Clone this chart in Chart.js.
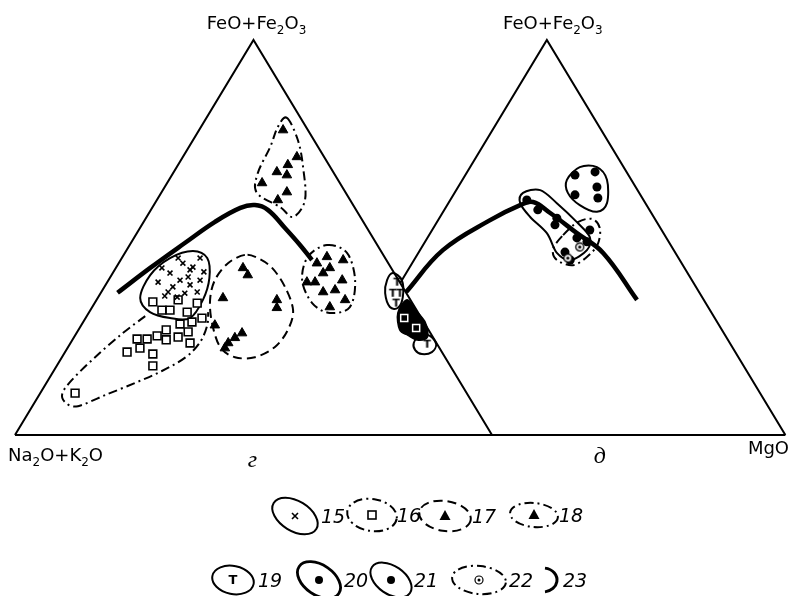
<!DOCTYPE html>
<html>
<head>
<meta charset="utf-8">
<script src="https://cdn.jsdelivr.net/npm/chart.js@4/dist/chart.umd.min.js"></script>
<style>
html, body { margin: 0; background: #fff; }
</style>
</head>
<body>
<canvas id="c" width="790" height="596"></canvas>
<script>
// two AFM diagrams: "г" (left) and "д" (right)
// every point is [FeO+Fe2O3, MgO] in %, Na2O+K2O is the rest

// trend lines
const trendG = [[36, 3.5], [42.3, 7.2], [48.6, 11.3], [53.9, 14.9], [57.5, 18.5], [58.2, 21.2], [57, 24.5], [52.4, 30.4], [48.1, 35.7], [44.3, 40.1]];
const trendD = [[36.2, 2.4], [46.8, 4.8], [54.4, 10.9], [58.2, 15.3], [59, 17.6], [56.2, 22.6], [51.1, 30.75], [46.1, 38.75], [34.2, 51.8]];

// samples, diagram г
const crosses15 = [[44.8, 16.4], [41.8, 15.8], [41, 12], [39.2, 15], [38.7, 10.65], [37.5, 14.35], [38, 17.7], [39.2, 19.2], [35.9, 17.65], [36.2, 20.1], [36.2, 14], [34.9, 16.55], [43.5, 13.45], [42.5, 16.05],
  [42.3, 9.65], [44.8, 11.8], [41.3, 18.95], [35.2, 13.8], [40, 16.3]];
const squares16 = [[33.7, 12.05], [31.6, 15], [31.6, 16.7], [34.2, 17.1], [31.1, 20.55], [33.4, 21.5], [29.6, 24.4], [28.6, 22.8], [28.1, 20.55], [26.1, 23.25], [23.3, 25.05], [24.8, 21.8], [24.1, 19.65], [25.1, 17.25], [24.3, 15.55], [24.3, 13.45], [21, 13], [22, 15.2], [20.5, 18.65], [17.5, 20.15], [10.6, 7.3], [26.6, 18.4]];
const triangles17 = [[42.3, 26.65], [40.5, 28.55], [34.7, 26.25], [34.2, 37.8], [32.2, 38.8], [27.8, 28], [25.8, 34.7], [24.6, 33.8], [23.3, 33.05], [22, 33]];
const triangles18 = [[77.2, 17.6], [70.4, 23.9], [68.4, 23], [66.6, 21.6], [65.8, 24.1], [63.8, 19.9], [61.5, 26.25], [59.5, 25.35],
  [45.1, 42.85], [44.3, 46.65], [43.5, 41.55], [42.3, 44.85], [41, 44.1], [39.2, 49], [38.7, 41.85], [38.7, 43.55], [36.2, 46.5], [36.7, 48.75], [34.2, 52.1], [32.4, 49.8]];
const ts19 = [[38.7, 60.75], [35.9, 61.25], [35.9, 62.75], [33.4, 63.2], [23, 74.9]];
const squaresOnBlack = [[29.6, 66.8], [27.1, 70.55]];

// samples, diagram д
const dots21 = [[65.8, 23], [66.6, 26.8], [62.8, 29.1], [60.8, 25.5], [60, 30.7],
  [59.5, 16.05], [57, 19.6], [54.9, 24.65], [53.2, 25.1], [49.9, 31.35], [51.9, 33.05], [48.9, 33.95], [46.3, 30.65], [44.3, 32.75]];
const rings22 = [[47.6, 33.1], [44.8, 32]];

// field outlines
const field15 = [[34.7, 8.9], [40.5, 8.1], [44.8, 10.1], [46.6, 14], [44.8, 17.9], [39.7, 20.9], [34.2, 22.3], [29.6, 21.9], [29.6, 17.7], [31.1, 12.75]];
const field16 = [[30.1, 12.25], [25.6, 9.6], [19.7, 6.95], [13.9, 4.95], [10.4, 4.7], [8.1, 6.65], [7.3, 9.55], [10.1, 13.85], [13.2, 18.6], [16.2, 22.7], [19.7, 25.95], [23.5, 27.05], [27.8, 26.4], [31.1, 24.95]];
const field17 = [[45.6, 25.4], [43.5, 22.9], [39.2, 22.3], [34.2, 23.8], [28.4, 27.1], [22.3, 31.85], [19.7, 36.25], [19.7, 40.45], [22.3, 43.35], [26.6, 43.9], [31.6, 42.5], [37.5, 37.85], [42.3, 32.75], [44.8, 28.5]];
const field18a = [[80.3, 16.85], [74.7, 21.95], [67.8, 26.5], [59.5, 31.05], [55.2, 30.7], [57.7, 26.75], [61.3, 20.05], [66.3, 17.75], [72.9, 17.05], [78, 16.1]];
const field18b = [[48.1, 41.35], [46.1, 46.55], [39.2, 51.7], [32.4, 54], [30.9, 50.55], [33.4, 45.6], [39.2, 40.6], [45.1, 38.85]];
const field19a = [[41, 58.7], [39.2, 61.5], [34.9, 63.85], [32.2, 64.2], [32.4, 62.4], [35.9, 59.65], [39.2, 58.4]];
const field19b = [[23.3, 71.95], [25.3, 72.25], [25.1, 74.45], [23, 76.8], [21, 76.9], [20.5, 75.05], [21.5, 73.15]];
const field20 = [[30.9, 64.85], [34.2, 65.1], [31.6, 68.1], [28.4, 71.8], [24.8, 74], [24.1, 72.25], [25.3, 69.75], [26.6, 67.4]];
const field21a = [[64.6, 21.9], [67.8, 23], [67.8, 26.6], [64.6, 30.3], [58.7, 33.25], [56.5, 32.25], [58.2, 27.8], [61.3, 23.75]];
const field21b = [[61.3, 14.35], [62, 17.6], [58.7, 22.75], [53.9, 29.35], [50.1, 33.95], [46.8, 35], [44.3, 32.75], [46.1, 29.05], [51.1, 24.45], [55.2, 18.9], [58.7, 15.05]];
const field22 = [[50.6, 28.1], [53.9, 29.55], [54.7, 32.15], [52.4, 34.9], [48.4, 36.5], [45.3, 35.95], [43, 34], [44.3, 29.95], [47.1, 27.75]];

const legendLabels = ['15', '16', '17', '18', '19', '20', '21', '22', '23'];

// where each triangle sits on the shared x axis
const G = { off: 0 };
const D = { off: 61.5 };

const SOLID = [];
const DASHED = [9, 5];
const DASHDOT = [9, 4, 2, 4];

function toXY(tri, p) {
    return { x: tri.off + p[1] + p[0] / 2, y: p[0] };
}

function pts(tri, arr) {
    return arr.map(p => toXY(tri, p));
}

// frame of both triangles
const gA = toXY(G, [0, 0]), gF = toXY(G, [100, 0]), gM = toXY(G, [0, 100]);
const dF = toXY(D, [100, 0]), dM = toXY(D, [0, 100]);
const dCut = toXY(D, [100 - D.off, 0]); // where the д side meets the г side

const fields = [
    { tri: G, data: field16, dash: DASHDOT, open: true },
    { tri: G, data: field15, dash: SOLID },
    { tri: G, data: field17, dash: DASHED },
    { tri: G, data: field18a, dash: DASHDOT },
    { tri: G, data: field18b, dash: DASHDOT },
    { tri: G, data: field20, dash: SOLID, fill: true },
    { tri: G, data: field19a, dash: SOLID },
    { tri: G, data: field19b, dash: SOLID },
    { tri: D, data: field21a, dash: SOLID },
    { tri: D, data: field21b, dash: SOLID },
    { tri: D, data: field22, dash: DASHDOT }
];

// small images for point symbols
function makeT() {
    const c = document.createElement('canvas');
    c.width = 11; c.height = 11;
    const g = c.getContext('2d');
    g.font = 'bold 11px "DejaVu Sans"';
    g.textAlign = 'center';
    g.textBaseline = 'middle';
    g.fillText('T', 5.5, 6);
    return c;
}

function makeRing() {
    const c = document.createElement('canvas');
    c.width = 11; c.height = 11;
    const g = c.getContext('2d');
    g.fillStyle = '#fff';
    g.beginPath(); g.arc(5.5, 5.5, 4, 0, Math.PI * 2); g.fill();
    g.lineWidth = 1.3;
    g.stroke();
    g.fillStyle = '#000';
    g.beginPath(); g.arc(5.5, 5.5, 1.6, 0, Math.PI * 2); g.fill();
    return c;
}

function smoothPath(ctx, p, closed) {
    const n = p.length;
    ctx.moveTo(p[0].x, p[0].y);
    const last = closed ? n : n - 1;
    for (let i = 0; i < last; i++) {
        const p0 = p[closed ? (i - 1 + n) % n : Math.max(i - 1, 0)];
        const p1 = p[i];
        const p2 = p[(i + 1) % n];
        const p3 = p[closed ? (i + 2) % n : Math.min(i + 2, n - 1)];
        ctx.bezierCurveTo(
            p1.x + (p2.x - p0.x) / 6, p1.y + (p2.y - p0.y) / 6,
            p2.x - (p3.x - p1.x) / 6, p2.y - (p3.y - p1.y) / 6,
            p2.x, p2.y);
    }
    if (closed) ctx.closePath();
}

const fieldsPlugin = {
    id: 'fields',
    beforeDraw(chart) {
        const ctx = chart.ctx;
        ctx.save();
        ctx.fillStyle = '#fff';
        ctx.fillRect(0, 0, chart.width, chart.height);
        ctx.restore();
    },
    beforeDatasetsDraw(chart) {
        const { ctx, scales: { x, y } } = chart;
        ctx.save();
        ctx.strokeStyle = '#000';
        ctx.fillStyle = '#000';
        ctx.lineWidth = 2;
        fields.forEach(f => {
            const p = pts(f.tri, f.data).map(q => ({ x: x.getPixelForValue(q.x), y: y.getPixelForValue(q.y) }));
            ctx.setLineDash(f.dash);
            ctx.beginPath();
            smoothPath(ctx, p, !f.open);
            if (f.fill) ctx.fill();
            ctx.stroke();
        });
        ctx.restore();
    }
};

// chemical formula with subscripts
function chem(ctx, parts, x, y, align) {
    const big = '18px "DejaVu Sans"';
    const small = '12px "DejaVu Sans"';
    let w = 0;
    parts.forEach(([t, sub]) => { ctx.font = sub ? small : big; w += ctx.measureText(t).width; });
    let cx = align === 'center' ? x - w / 2 : align === 'right' ? x - w : x;
    ctx.textAlign = 'left';
    parts.forEach(([t, sub]) => {
        ctx.font = sub ? small : big;
        ctx.fillText(t, cx, sub ? y + 5 : y);
        cx += ctx.measureText(t).width;
    });
}

function ellipse(ctx, cx, cy, rx, ry, rot, dash, lw) {
    ctx.save();
    ctx.setLineDash(dash);
    ctx.lineWidth = lw;
    ctx.beginPath();
    ctx.ellipse(cx, cy, rx, ry, rot, 0, Math.PI * 2);
    ctx.stroke();
    ctx.restore();
}

function symbol(ctx, kind, cx, cy) {
    ctx.save();
    ctx.lineWidth = 1.6;
    if (kind === 'x') {
        ctx.beginPath();
        ctx.moveTo(cx - 3, cy - 3); ctx.lineTo(cx + 3, cy + 3);
        ctx.moveTo(cx + 3, cy - 3); ctx.lineTo(cx - 3, cy + 3);
        ctx.stroke();
    } else if (kind === 'sq') {
        ctx.strokeRect(cx - 4, cy - 4, 8, 8);
    } else if (kind === 'tri') {
        ctx.beginPath();
        ctx.moveTo(cx, cy - 6); ctx.lineTo(cx + 5.5, cy + 4); ctx.lineTo(cx - 5.5, cy + 4);
        ctx.closePath(); ctx.fill();
    } else if (kind === 'T') {
        ctx.font = 'bold 13px "DejaVu Sans"';
        ctx.textAlign = 'center';
        ctx.textBaseline = 'middle';
        ctx.fillText('T', cx, cy + 1);
    } else if (kind === 'dot') {
        ctx.beginPath(); ctx.arc(cx, cy, 4, 0, Math.PI * 2); ctx.fill();
    } else if (kind === 'ring') {
        ctx.lineWidth = 1.2;
        ctx.beginPath(); ctx.arc(cx, cy, 4, 0, Math.PI * 2); ctx.stroke();
        ctx.beginPath(); ctx.arc(cx, cy, 1.5, 0, Math.PI * 2); ctx.fill();
    }
    ctx.restore();
}

const textPlugin = {
    id: 'texts',
    afterDraw(chart) {
        const { ctx, scales: { x, y } } = chart;
        ctx.save();
        ctx.fillStyle = '#000';
        ctx.strokeStyle = '#000';
        ctx.textBaseline = 'alphabetic';
        const px = v => x.getPixelForValue(v);
        const py = v => y.getPixelForValue(v);
        const feo = [['FeO+Fe', 0], ['2', 1], ['O', 0], ['3', 1]];
        chem(ctx, feo, px(gF.x) + 3, py(gF.y) - 11, 'center');
        chem(ctx, feo, px(dF.x) + 6, py(dF.y) - 11, 'center');
        chem(ctx, [['Na', 0], ['2', 1], ['O+K', 0], ['2', 1], ['O', 0]], 8, py(0) + 26, 'left');
        chem(ctx, [['MgO', 0]], 789, py(0) + 19, 'right');

        ctx.font = 'italic 24px "Liberation Serif"';
        ctx.textAlign = 'center';
        ctx.fillText('г', px((gA.x + gM.x) / 2) - 1, py(0) + 32);
        ctx.fillText('д', px(dF.x) + 53, py(0) + 28);

        // legend
        const items = [
            { cx: 295, cy: 516, rx: 25, ry: 15, rot: 0.55, dash: SOLID, sym: 'x', tx: 333 },
            { cx: 372, cy: 515, rx: 25, ry: 16, rot: 0.15, dash: DASHDOT, sym: 'sq', tx: 409 },
            { cx: 445, cy: 516, rx: 26, ry: 15, rot: 0.15, dash: DASHED, sym: 'tri', tx: 484 },
            { cx: 534, cy: 515, rx: 24, ry: 12, rot: 0.1, dash: DASHDOT, sym: 'tri', tx: 571 },
            { cx: 233, cy: 580, rx: 21, ry: 14, rot: 0.2, dash: SOLID, sym: 'T', tx: 270 },
            { cx: 319, cy: 580, rx: 24, ry: 15, rot: 0.6, dash: SOLID, sym: 'dot', tx: 356, lw: 2.8 },
            { cx: 391, cy: 580, rx: 23, ry: 14, rot: 0.6, dash: SOLID, sym: 'dot', tx: 426 },
            { cx: 479, cy: 580, rx: 27, ry: 14, rot: 0.1, dash: DASHDOT, sym: 'ring', tx: 521 }
        ];
        ctx.font = 'italic 19px "DejaVu Sans"';
        items.forEach((it, i) => {
            ellipse(ctx, it.cx, it.cy, it.rx, it.ry, it.rot, it.dash, it.lw || 2);
            symbol(ctx, it.sym, it.cx, it.cy);
            ctx.font = 'italic 19px "DejaVu Sans"';
            ctx.textAlign = 'center';
            ctx.fillText(legendLabels[i], it.tx, it.cy + 7);
        });
        // 23 is only a bold line
        ctx.lineWidth = 3;
        ctx.beginPath();
        ctx.ellipse(543, 580, 14, 12, 0, -Math.PI / 2.2, Math.PI / 2.2);
        ctx.stroke();
        ctx.fillText(legendLabels[8], 575, 587);
        ctx.restore();
    }
};

function lineSet(data, width, tension) {
    return {
        data: data, showLine: true, borderColor: '#000', borderWidth: width,
        pointRadius: 0, tension: tension, fill: false
    };
}

const chart = new Chart(document.getElementById('c'), {
    type: 'scatter',
    data: {
        datasets: [
            { data: pts(G, ts19), pointStyle: makeT(), pointRadius: 5 },
            { data: pts(G, squaresOnBlack), pointStyle: 'rect', pointRadius: 5, backgroundColor: '#000', borderColor: '#fff', borderWidth: 1.5 },
            { data: pts(D, rings22), pointStyle: makeRing(), pointRadius: 5 },
            { data: pts(D, dots21), pointStyle: 'circle', pointRadius: 4.5, backgroundColor: '#000', borderColor: '#000', borderWidth: 0 },
            { data: pts(G, crosses15), pointStyle: 'crossRot', pointRadius: 3.5, borderColor: '#000', borderWidth: 1.6 },
            { data: pts(G, squares16), pointStyle: 'rect', pointRadius: 5.5, backgroundColor: '#fff', borderColor: '#000', borderWidth: 1.6 },
            { data: pts(G, triangles17), pointStyle: 'triangle', pointRadius: 5.5, backgroundColor: '#000', borderColor: '#000', borderWidth: 1 },
            { data: pts(G, triangles18), pointStyle: 'triangle', pointRadius: 5.5, backgroundColor: '#000', borderColor: '#000', borderWidth: 1 },
            lineSet(pts(G, trendG), 4.5, 0.4),
            lineSet(pts(D, trendD), 4.5, 0.4),
            lineSet([gA, gF, gM], 2, 0),
            lineSet([gA, dM], 2, 0),
            lineSet([dCut, dF, dM], 2, 0)
        ]
    },
    options: {
        responsive: false,
        animation: false,
        events: [],
        devicePixelRatio: 1,
        layout: { padding: 0, autoPadding: false },
        plugins: { legend: { display: false }, tooltip: { enabled: false } },
        scales: {
            x: { type: 'linear', min: -3.14, max: 162.47, display: false },
            y: { type: 'linear', min: -40.76, max: 110.13, display: false }
        }
    },
    plugins: [fieldsPlugin, textPlugin]
});
</script>
</body>
</html>
